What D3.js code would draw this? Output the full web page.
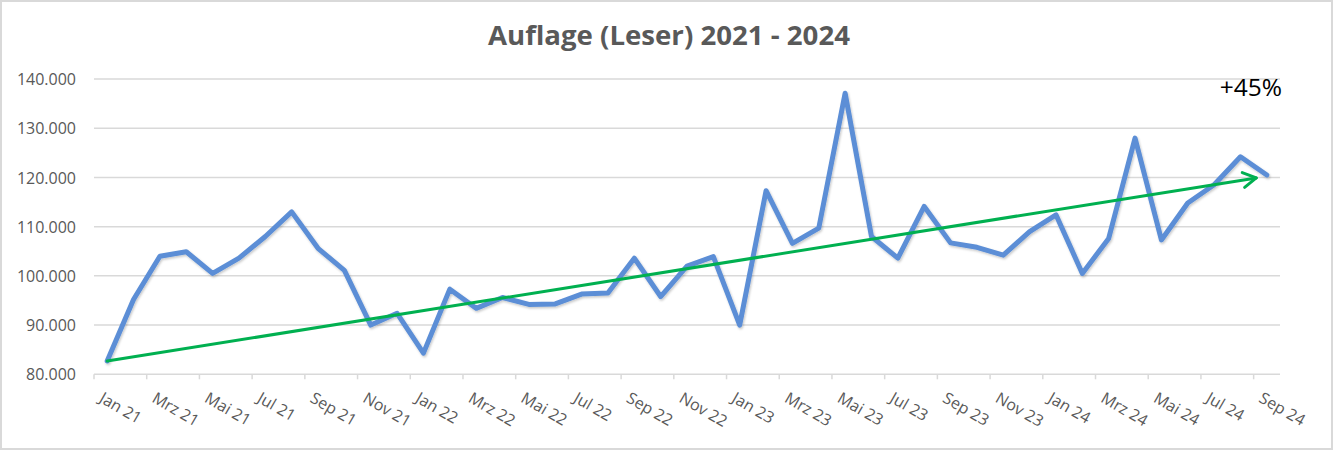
<!DOCTYPE html>
<html>
<head>
<meta charset="utf-8">
<script src="https://cdn.jsdelivr.net/npm/d3@7"></script>
<style>
  html, body { margin: 0; padding: 0; background: #fff; }
  svg { display: block; }
</style>
</head>
<body>
<div id="chart"></div>
<script>
// ---- data ----
const title = "Auflage (Leser) 2021 - 2024";
const categories = [
  "Jan 21","Feb 21","Mrz 21","Apr 21","Mai 21","Jun 21","Jul 21","Aug 21","Sep 21","Okt 21","Nov 21","Dez 21",
  "Jan 22","Feb 22","Mrz 22","Apr 22","Mai 22","Jun 22","Jul 22","Aug 22","Sep 22","Okt 22","Nov 22","Dez 22",
  "Jan 23","Feb 23","Mrz 23","Apr 23","Mai 23","Jun 23","Jul 23","Aug 23","Sep 23","Okt 23","Nov 23","Dez 23",
  "Jan 24","Feb 24","Mrz 24","Apr 24","Mai 24","Jun 24","Jul 24","Aug 24","Sep 24"
];
const readers = [
  82700, 95200, 104000, 104900, 100500, 103600, 108000, 113000, 105600, 101100, 90000, 92400,
  84300, 97300, 93400, 95600, 94200, 94300, 96300, 96500, 103600, 95800, 102000, 103900,
  90000, 117300, 106600, 109700, 137100, 108000, 103600, 114100, 106700, 105800, 104200, 109000,
  112400, 100500, 107600, 128000, 107300, 114800, 118500, 124200, 120500
];
const yTicks = [80000, 90000, 100000, 110000, 120000, 130000, 140000];
const trendIndex = [0, 43.6];
const trendValue = [82700, 119900];
const trendLabel = "+45%";

// ---- layout ----
const W = 1334, H = 452;
const plotLeft = 94, plotRight = 1280, plotTop = 79, plotBottom = 374.3;
const grey = "#595959";
const font = "'Open Sans', 'Noto Sans', sans-serif";

const svg = d3.select("#chart").append("svg")
  .attr("width", W).attr("height", H)
  .attr("viewBox", `0 0 ${W} ${H}`);

const defs = svg.append("defs");
const sh = defs.append("filter").attr("id", "shadow")
  .attr("x", "-5%").attr("y", "-10%").attr("width", "110%").attr("height", "130%");
sh.append("feDropShadow").attr("dx", 1).attr("dy", 1.5).attr("stdDeviation", 1.2)
  .attr("flood-color", "#000").attr("flood-opacity", 0.22);

defs.append("marker").attr("id", "arrow")
  .attr("markerUnits", "userSpaceOnUse")
  .attr("viewBox", "-16 -10 20 20")
  .attr("refX", 0).attr("refY", 0)
  .attr("markerWidth", 20).attr("markerHeight", 20)
  .attr("orient", "auto")
  .append("path")
  .attr("d", "M-13,-7.5 L0,0 L-13,7.5")
  .attr("fill", "none").attr("stroke", "#00B050")
  .attr("stroke-width", 3).attr("stroke-linecap", "round").attr("stroke-linejoin", "round");

svg.append("rect").attr("x", 0).attr("y", 0).attr("width", W).attr("height", H).attr("fill", "#fff");
svg.append("rect").attr("x", 1).attr("y", 1).attr("width", W - 3).attr("height", H - 4)
  .attr("fill", "none").attr("stroke", "#d9d9d9").attr("stroke-width", 2);

// scales
const x = d3.scaleBand().domain(d3.range(categories.length)).range([plotLeft, plotRight]).padding(0);
const xc = i => x(i) + x.bandwidth() / 2;
const xIdx = d3.scaleLinear().domain([-0.5, categories.length - 0.5]).range([plotLeft, plotRight]);
const y = d3.scaleLinear().domain([80000, 140000]).range([plotBottom, plotTop]);

const de = d3.formatLocale({ decimal: ",", thousands: ".", grouping: [3], currency: ["", " €"] });
const fmt = de.format(",.0f");

// gridlines
svg.append("g").selectAll("line").data(yTicks.filter(t => t !== 80000)).join("line")
  .attr("x1", plotLeft).attr("x2", plotRight)
  .attr("y1", d => y(d)).attr("y2", d => y(d))
  .attr("stroke", "#d9d9d9").attr("stroke-width", 1.5);

// y axis labels
const yAxis = d3.axisLeft(y).tickValues(yTicks).tickFormat(fmt).tickSize(0).tickPadding(0);
const gy = svg.append("g").attr("transform", `translate(76,0)`).call(yAxis);
gy.select(".domain").remove();
gy.selectAll("text").attr("font-family", font).attr("font-size", 16).attr("fill", grey)
  .attr("dy", "0.35em");

// x axis line + ticks
svg.append("line").attr("x1", plotLeft).attr("x2", plotRight)
  .attr("y1", plotBottom).attr("y2", plotBottom)
  .attr("stroke", "#d9d9d9").attr("stroke-width", 1.5);
const tickIdx = d3.range(0, categories.length, 2);
svg.append("g").selectAll("line").data(tickIdx).join("line")
  .attr("x1", d => x(d)).attr("x2", d => x(d))
  .attr("y1", plotBottom).attr("y2", plotBottom + 5)
  .attr("stroke", "#d9d9d9").attr("stroke-width", 1.5);

// x labels
svg.append("g").selectAll("text").data(tickIdx).join("text")
  .attr("transform", d => `translate(${xc(d) - 9},${plotBottom + 27}) rotate(30)`)
  .attr("text-anchor", "start")
  .attr("font-family", font).attr("font-size", 16).attr("fill", grey)
  .text(d => categories[d]);

// main line
const line = d3.line().x((d, i) => xc(i)).y(d => y(d));
svg.append("path").datum(readers)
  .attr("d", line)
  .attr("fill", "none").attr("stroke", "#5B8ED6").attr("stroke-width", 5)
  .attr("stroke-linejoin", "round").attr("stroke-linecap", "round")
  .attr("filter", "url(#shadow)");

// trend arrow
svg.append("line")
  .attr("x1", xIdx(trendIndex[0])).attr("y1", y(trendValue[0]))
  .attr("x2", xIdx(trendIndex[1])).attr("y2", y(trendValue[1]))
  .attr("stroke", "#00B050").attr("stroke-width", 3)
  .attr("stroke-linecap", "round")
  .attr("marker-end", "url(#arrow)");

// trend label
svg.append("text").attr("x", 1282).attr("y", 96)
  .attr("text-anchor", "end")
  .attr("font-family", font).attr("font-size", 24.5).attr("fill", "#000")
  .text(trendLabel);

// title
const t = svg.append("text").attr("x", 669).attr("y", 45)
  .attr("text-anchor", "middle")
  .attr("font-family", font).attr("font-weight", "bold").attr("font-size", 21)
  .attr("fill", grey).text(title);
const tw = t.node().getComputedTextLength();
if (tw > 0) t.attr("font-size", 21 * 362 / tw);
</script>
</body>
</html>
